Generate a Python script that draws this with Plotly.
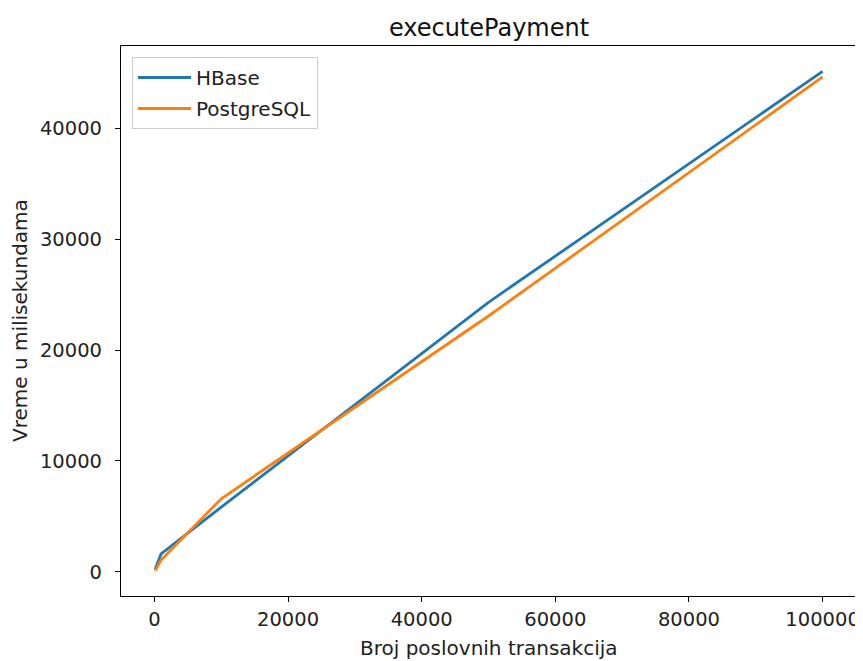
import plotly.graph_objects as go

transactions = [100, 1000, 10000, 50000, 100000]
hbase_ms = [250, 1620, 5850, 24300, 45100]
postgres_ms = [120, 1080, 6600, 23060, 44600]

x_ticks = [0, 20000, 40000, 60000, 80000, 100000]
y_ticks = [0, 10000, 20000, 30000, 40000]

title_text = "executePayment"
x_title = "Broj poslovnih transakcija"
y_title = "Vreme u milisekundama"

font = "DejaVu Sans"
fig = go.Figure()
fig.add_trace(go.Scatter(x=transactions, y=hbase_ms, mode="lines", name="HBase",
                         legendgroup="a",
                         line=dict(color="#1f77b4", width=2.8)))
fig.add_trace(go.Scatter(x=transactions, y=postgres_ms, mode="lines", name="PostgreSQL",
                         legendgroup="b",
                         line=dict(color="#ff7f0e", width=2.8)))

axis_common = dict(showgrid=False, zeroline=False, showline=True, linecolor="black",
                   linewidth=1.2, mirror=True, ticks="outside", ticklen=5, tickwidth=1.2,
                   tickcolor="black", automargin=False,
                   tickfont=dict(family=font, size=19.5, color="#222"))

# the page body adds an 8px offset, so the figure is 8px smaller than the window
fig.update_layout(
    width=855, height=653,
    margin=dict(l=113, r=7, t=38, b=65),
    paper_bgcolor="white", plot_bgcolor="white",
    font=dict(family=font, size=20, color="#222"),
    title=dict(text=title_text, x=0.5626, xanchor="center", y=0.9694, yanchor="middle",
               font=dict(family=font, size=24, color="#111")),
    xaxis=dict(range=[-5000, 105000], tickvals=x_ticks, ticktext=[str(v) for v in x_ticks],
               **axis_common),
    yaxis=dict(range=[-2165, 47390], tickvals=y_ticks, ticktext=[str(v) for v in y_ticks],
               ticklabelstandoff=9,
               **axis_common),
    legend=dict(x=0.015, y=0.98, xanchor="left", yanchor="top",
                bgcolor="rgba(255,255,255,0.8)", bordercolor="#cccccc", borderwidth=1,
                font=dict(family=font, size=20, color="#222"),
                itemwidth=53, tracegroupgap=2),
    showlegend=True,
    annotations=[
        dict(text=x_title, xref="paper", yref="paper", x=0.5, y=-0.0945,
             xanchor="center", yanchor="middle", showarrow=False,
             font=dict(family=font, size=20, color="#222")),
        dict(text=y_title, xref="paper", yref="paper", x=-0.1374, y=0.5,
             xanchor="center", yanchor="middle", showarrow=False, textangle=-90,
             font=dict(family=font, size=20, color="#222")),
    ],
)

fig.write_html("out.html")
